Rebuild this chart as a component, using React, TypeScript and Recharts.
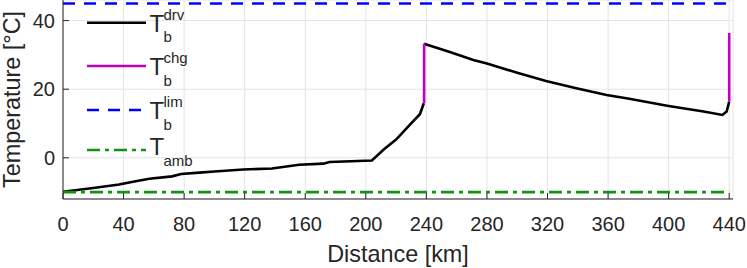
import { LineChart, Line, XAxis, YAxis, CartesianGrid, Legend, Label } from 'recharts';

// chart data (distance km, battery / ambient temperature °C)
const DRIVE_1_KM = [0, 20, 37, 48, 57, 72, 78, 90, 100, 119, 138, 156, 172, 176, 204, 212, 220, 229, 235.7, 238.3];
const DRIVE_1_T = [-9.9, -8.8, -7.8, -6.8, -6.1, -5.4, -4.7, -4.3, -4.0, -3.4, -3.1, -2.0, -1.7, -1.2, -0.8, 2.5, 5.3, 9.6, 12.7, 15.9];
const CHARGE_1_KM = [238.5, 238.5];
const CHARGE_1_T = [15.9, 33.3];
const DRIVE_2_KM = [238.5, 240, 255, 271, 280, 300, 319, 339, 359, 374, 399, 423, 435.5, 438.3, 440];
const DRIVE_2_T = [33.3, 33.0, 30.9, 28.5, 27.5, 24.8, 22.4, 20.3, 18.3, 17.2, 15.2, 13.5, 12.5, 13.5, 16.4];
const CHARGE_2_KM = [440, 440];
const CHARGE_2_T = [16.4, 36.4];
const LIMIT_KM = [0, 440];
const LIMIT_T = [45, 45];
const AMBIENT_KM = [0, 440];
const AMBIENT_T = [-10, -10];

const X_TICKS = [0, 40, 80, 120, 160, 200, 240, 280, 320, 360, 400, 440];
const Y_TICKS = [0, 20, 40];

const W = 747;
const H = 268;
const PLOT_LEFT = 63;
const PLOT_BOTTOM = 199;
const AXIS_COLOR = '#262626';
const FONT = '"Liberation Sans", Arial, Helvetica, sans-serif';

const C_DRV = '#000000';
const C_CHG = '#c000c0';
const C_LIM = '#0000ff';
const C_AMB = '#109410';
const DASH_LIM = '12 9';
const DASH_AMB = '13 5 4 5';

const zip = (km: number[], t: number[]) => km.map((k, i) => ({ km: k, t: t[i] }));

const LEGEND = [
  { color: C_DRV, dash: undefined, sub: 'b', sup: 'drv' },
  { color: C_CHG, dash: undefined, sub: 'b', sup: 'chg' },
  { color: C_LIM, dash: DASH_LIM, sub: 'b', sup: 'lim' },
  { color: C_AMB, dash: DASH_AMB, sub: 'amb', sup: '' },
];
const LEGEND_ROWS = [22.7, 66, 110, 150];

function XTick(props: any) {
  const { x, payload } = props;
  return (
    <g>
      <line x1={x} x2={x} y1={PLOT_BOTTOM} y2={PLOT_BOTTOM - 6} stroke={AXIS_COLOR} strokeWidth={1} />
      <text x={x} y={230.5} textAnchor="middle" fill={AXIS_COLOR} fontSize={20} fontFamily={FONT}>
        {payload.value}
      </text>
    </g>
  );
}

function YTick(props: any) {
  const { y, payload } = props;
  return (
    <g>
      <line x1={PLOT_LEFT} x2={PLOT_LEFT + 6} y1={y} y2={y} stroke={AXIS_COLOR} strokeWidth={1} />
      <text x={55} y={y + 7.2} textAnchor="end" fill={AXIS_COLOR} fontSize={20} fontFamily={FONT}>
        {payload.value}
      </text>
    </g>
  );
}

function LegendBox() {
  return (
    <svg width={W} height={PLOT_BOTTOM} style={{ position: 'absolute', left: 0, top: 0, overflow: 'visible' }}>
      {LEGEND.map((item, i) => {
        const ly = LEGEND_ROWS[i];
        const base = item.sup ? ly + 9 : ly + 5;
        return (
          <g key={i}>
            <line x1={87} x2={146} y1={ly} y2={ly} stroke={item.color} strokeWidth={2.6} strokeDasharray={item.dash} />
            <text x={149.5} y={base} fill={AXIS_COLOR} fontSize={24} fontFamily={FONT}>T</text>
            {item.sup && (
              <text x={163.5} y={base - 12} fill={AXIS_COLOR} fontSize={15} fontFamily={FONT}>{item.sup}</text>
            )}
            <text x={163.5} y={base + 10.5} fill={AXIS_COLOR} fontSize={15} fontFamily={FONT}>{item.sub}</text>
          </g>
        );
      })}
    </svg>
  );
}

export default function App() {
  return (
    <div style={{ position: 'absolute', left: 0, top: 0, width: W, height: H, background: '#fff' }}>
      <LineChart width={W} height={H} margin={{ top: 0, right: 14, left: 0, bottom: 0 }}>
        <CartesianGrid stroke="#e4e4e4" strokeWidth={1} />
        <XAxis
          type="number"
          dataKey="km"
          domain={[0, 442.5]}
          ticks={X_TICKS}
          interval={0}
          height={H - PLOT_BOTTOM}
          axisLine={{ stroke: AXIS_COLOR, strokeWidth: 1 }}
          tickLine={false}
          tick={<XTick />}
        >
          <Label
            value="Distance [km]"
            position="insideBottom"
            offset={6}
            style={{ fill: AXIS_COLOR, fontSize: 23.4, fontFamily: FONT }}
          />
        </XAxis>
        <YAxis
          type="number"
          dataKey="t"
          domain={[-12, 46]}
          ticks={Y_TICKS}
          interval={0}
          width={PLOT_LEFT}
          axisLine={{ stroke: AXIS_COLOR, strokeWidth: 1 }}
          tickLine={false}
          tick={<YTick />}
        >
          <Label
            value="Temperature [°C]"
            angle={-90}
            position="insideLeft"
            offset={11.5}
            style={{ fill: AXIS_COLOR, fontSize: 23.4, fontFamily: FONT, textAnchor: 'middle' }}
          />
        </YAxis>
        <Legend
          layout="horizontal"
          verticalAlign="middle"
          align="center"
          wrapperStyle={{ position: 'absolute', left: 0, top: 0, width: W, height: PLOT_BOTTOM }}
          content={() => <LegendBox />}
        />
        <Line data={zip(DRIVE_1_KM, DRIVE_1_T)} dataKey="t" name="drv" stroke={C_DRV} strokeWidth={2.6} dot={false} isAnimationActive={false} />
        <Line data={zip(DRIVE_2_KM, DRIVE_2_T)} dataKey="t" name="drv2" legendType="none" stroke={C_DRV} strokeWidth={2.6} dot={false} isAnimationActive={false} />
        <Line data={zip(CHARGE_1_KM, CHARGE_1_T)} dataKey="t" name="chg" stroke={C_CHG} strokeWidth={2.6} dot={false} isAnimationActive={false} />
        <Line data={zip(CHARGE_2_KM, CHARGE_2_T)} dataKey="t" name="chg2" legendType="none" stroke={C_CHG} strokeWidth={2.6} dot={false} isAnimationActive={false} />
        <Line data={zip(LIMIT_KM, LIMIT_T)} dataKey="t" name="lim" stroke={C_LIM} strokeWidth={2.6} strokeDasharray={DASH_LIM} dot={false} isAnimationActive={false} />
        <Line data={zip(AMBIENT_KM, AMBIENT_T)} dataKey="t" name="amb" stroke={C_AMB} strokeWidth={2.6} strokeDasharray={DASH_AMB} dot={false} isAnimationActive={false} />
      </LineChart>
    </div>
  );
}
